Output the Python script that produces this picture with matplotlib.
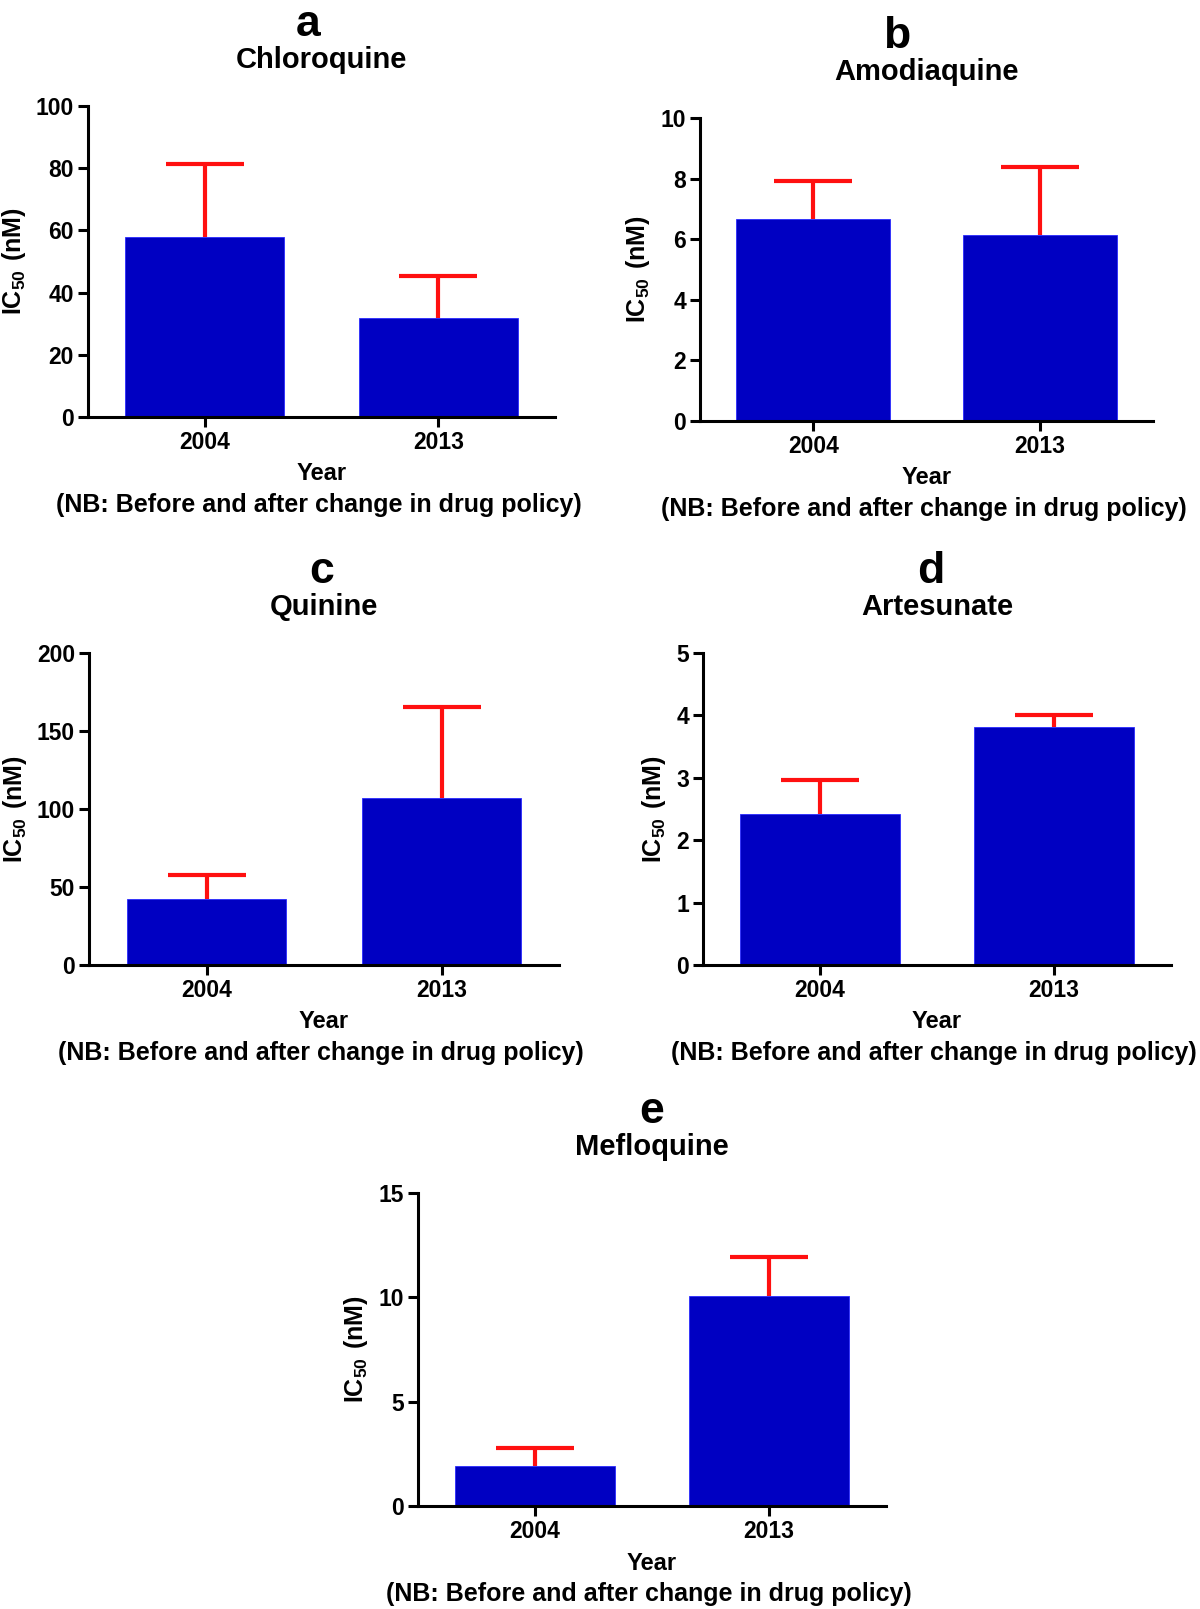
import numpy as np
import matplotlib
matplotlib.use("Agg")
import matplotlib.pyplot as plt

# DATA (IC50, nM; bar = mean, red bar = upper error)
panels = ["a", "b", "c", "d", "e"]
drugs = ["Chloroquine", "Amodiaquine", "Quinine", "Artesunate", "Mefloquine"]
years = ["2004", "2013"]
mean_2004 = [57.8, 6.68, 42.1, 2.42, 1.92]
mean_2013 = [31.7, 6.14, 107.2, 3.82, 10.08]
err_2004 = [23.4, 1.25, 15.8, 0.54, 0.88]
err_2013 = [13.5, 2.23, 57.9, 0.19, 1.87]
y_max = [100, 10, 200, 5, 15]
y_step = [20, 2, 50, 1, 5]

# LAYOUT (pixels in a 1200 x 1609 figure: left, right, top, bottom)
W, H = 1200, 1609
boxes = [(88, 555, 106, 417),
         (700, 1153, 118, 421),
         (89, 559, 653, 965),
         (703, 1171, 653, 965),
         (418, 886, 1193, 1506)]
letter_dx = [-13, -30, -2, -6, 0]

plt.rcParams['font.family'] = 'Liberation Sans'
plt.rcParams['font.weight'] = 'bold'
plt.rcParams['mathtext.fontset'] = 'custom'
plt.rcParams['mathtext.rm'] = 'Liberation Sans:bold'
plt.rcParams['mathtext.bf'] = 'Liberation Sans:bold'
plt.rcParams['mathtext.default'] = 'bf'

bar_color = '#0000c2'
err_color = '#ff1010'

fig = plt.figure(figsize=(W / 100, H / 100), dpi=100)

for i in range(len(drugs)):
    l, r, t, b = boxes[i]
    ax = fig.add_axes([l / W, 1 - b / H, (r - l) / W, (b - t) / H])
    x = np.arange(len(years))
    means = [mean_2004[i], mean_2013[i]]
    errs = [err_2004[i], err_2013[i]]
    eb = ax.errorbar(x, means, yerr=[[0, 0], errs], fmt='none', ecolor=err_color,
                     elinewidth=3, capsize=28, capthick=3, zorder=1)
    # only the upper cap is drawn
    eb[1][0].set_visible(False)
    ax.bar(x, means, width=0.68, color=bar_color, edgecolor='#2a2aff',
           linewidth=0.6, zorder=2)

    ax.set_xlim(-0.5, 1.5)
    ax.set_ylim(0, y_max[i])
    ax.set_yticks(np.arange(0, y_max[i] + y_step[i] / 2, y_step[i]))
    ax.set_xticks(x)
    ax.set_xticklabels(years)
    for s in ['top', 'right']:
        ax.spines[s].set_visible(False)
    for s in ['left', 'bottom']:
        ax.spines[s].set_linewidth(2.2)
    ax.tick_params(axis='both', width=2.2, length=7.5, labelsize=16.5, pad=2.5)
    ax.set_ylabel(r'$\mathbf{IC_{50}\ (nM)}$', fontsize=18, labelpad=6)

    # titles above the axes
    ax.annotate(panels[i], xy=(0.5, 1), xycoords='axes fraction',
                xytext=(letter_dx[i], 70), textcoords='offset pixels',
                ha='center', va='baseline', fontsize=32)
    ax.annotate(drugs[i], xy=(0.5, 1), xycoords='axes fraction',
                xytext=(0, 46), textcoords='offset pixels',
                ha='center', va='center', fontsize=21)
    # x axis captions
    ax.annotate('Year', xy=(0.5, 0), xycoords='axes fraction',
                xytext=(0, -57), textcoords='offset pixels',
                ha='center', va='center', fontsize=17)
    ax.annotate('(NB: Before and after change in drug policy)', xy=(0.5, 0),
                xycoords='axes fraction', xytext=(-3, -88),
                textcoords='offset pixels', ha='center', va='center',
                fontsize=18)

fig.savefig('out.png', dpi=100)
